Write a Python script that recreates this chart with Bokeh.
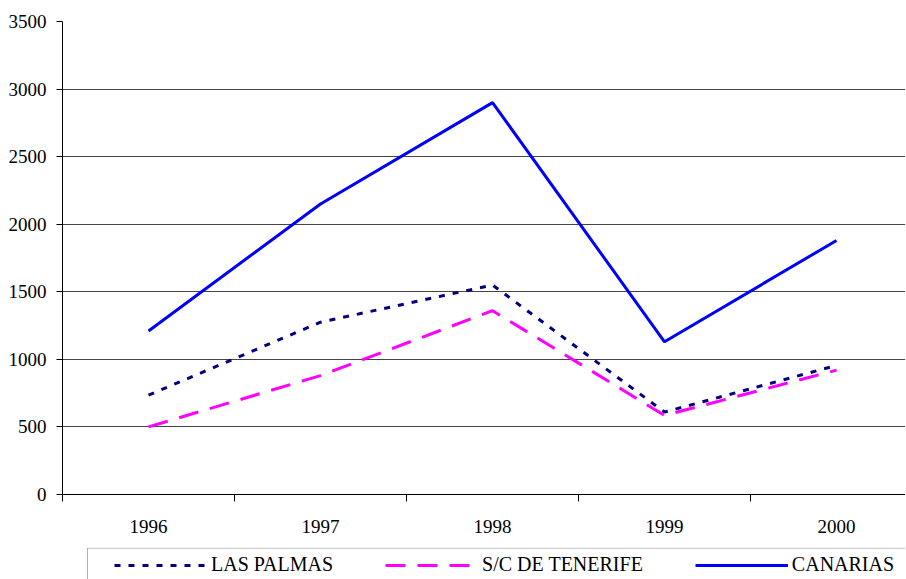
from bokeh.plotting import figure
from bokeh.models import Range1d, FixedTicker, Legend, LegendItem, BoxAnnotation
from bokeh.layouts import column
from bokeh.embed import file_html
from bokeh.resources import INLINE

years = ["1996", "1997", "1998", "1999", "2000"]
las_palmas = [735, 1275, 1550, 610, 955]
sc_tenerife = [500, 880, 1360, 585, 920]
canarias = [1210, 2150, 2900, 1130, 1880]
y_ticks = [0, 500, 1000, 1500, 2000, 2500, 3000, 3500]
series_names = ["LAS PALMAS", "S/C DE TENERIFE", "CANARIAS"]

xs = list(range(len(years)))
FONT = "Liberation Serif"
styles = [dict(line_color="#000080", line_width=3, line_dash="6 8"),
          dict(line_color="#FF00FF", line_width=3, line_dash="20 12"),
          dict(line_color="#0000FF", line_width=3)]
series = [las_palmas, sc_tenerife, canarias]

p = figure(width=905, height=547, output_backend="svg", toolbar_location=None,
           x_range=Range1d(-0.5, 4.401), y_range=Range1d(0, 3500),
           min_border_left=62, min_border_right=0, min_border_top=21, min_border_bottom=53)
p.outline_line_color = None
p.background_fill_color = "white"
p.border_fill_color = "white"

p.xgrid.visible = False
p.ygrid.ticker = FixedTicker(ticks=y_ticks)
p.ygrid.grid_line_color = "#444444"
p.ygrid.grid_line_width = 1

# y axis
p.yaxis.ticker = FixedTicker(ticks=y_ticks)
p.yaxis.axis_line_color = "black"
p.yaxis.major_tick_line_color = "black"
p.yaxis.major_tick_out = 6
p.yaxis.major_tick_in = 0
p.yaxis.minor_tick_line_color = None
p.yaxis.major_label_standoff = 10
p.yaxis.major_label_text_font = FONT
p.yaxis.major_label_text_font_size = "19px"
p.yaxis.major_label_text_color = "black"

# x axis: labels at category centres, tick marks at boundaries
p.xaxis.ticker = FixedTicker(ticks=xs, minor_ticks=[i - 0.5 for i in range(len(years) + 1)])
p.xaxis.major_label_overrides = {i: y for i, y in enumerate(years)}
p.xaxis.axis_line_color = "black"
p.xaxis.major_tick_out = 0
p.xaxis.major_tick_in = 0
p.xaxis.minor_tick_out = 7
p.xaxis.minor_tick_in = 0
p.xaxis.minor_tick_line_color = "black"
p.xaxis.major_label_standoff = 18
p.xaxis.major_label_text_font = FONT
p.xaxis.major_label_text_font_size = "19px"
p.xaxis.major_label_text_color = "black"

for data, st in zip(series, styles):
    p.line(xs, data, **st)

# legend strip below the chart
lg = figure(width=905, height=32, output_backend="svg", toolbar_location=None,
            x_range=Range1d(-0.5, 4.401), y_range=Range1d(0, 1.02),
            x_axis_type=None, y_axis_type=None,
            min_border_left=62, min_border_right=0, min_border_top=0, min_border_bottom=0)
lg.grid.visible = False
lg.outline_line_color = None
lg.background_fill_color = "white"
lg.border_fill_color = "white"

# legend frame (its right and bottom edges fall outside the window)
lg.add_layout(BoxAnnotation(left=87, left_units="canvas", right=1500, right_units="canvas",
                            top=1, bottom=-1,
                            fill_color=None, fill_alpha=0,
                            line_color="black", line_width=1))

items = []
for name, data, st in zip(series_names, series, styles):
    r = lg.line(xs, data, **st)   # drawn outside this strip's range; used for legend swatches
    items.append(LegendItem(label=name, renderers=[r]))

legend = Legend(items=items, orientation="horizontal", location=(52, 3),
                glyph_width=93, glyph_height=20, label_height=20,
                label_standoff=4, spacing=52, padding=0, margin=0,
                border_line_color=None, background_fill_alpha=0,
                label_text_font=FONT, label_text_font_size="20px", label_text_color="black")
lg.add_layout(legend)

layout = column(p, lg, spacing=0)
open("out.html", "w").write(file_html(layout, INLINE))
